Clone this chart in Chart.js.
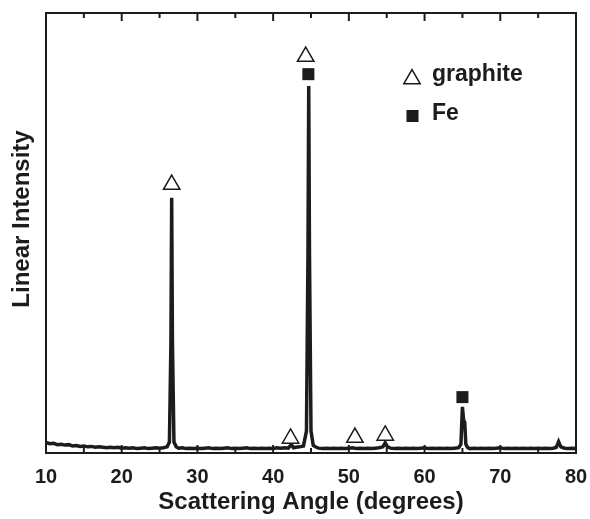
<!DOCTYPE html>
<html>
<head>
<meta charset="utf-8">
<script src="https://cdn.jsdelivr.net/npm/chart.js@4/dist/chart.umd.min.js"></script>
<style>
  html, body { margin: 0; padding: 0; background: #fff; }
  canvas { display: block; }
</style>
</head>
<body>
<canvas id="xrd" width="590" height="519"></canvas>
<script>
// scan: 2-theta (deg) vs intensity (arbitrary, 0..100 of plot height)
const angles = [
  10.0, 10.5, 11.0, 11.5, 12.0, 12.5, 13.0, 13.5, 14.0, 14.5, 15.0, 15.5, 16.0, 16.5, 17.0, 17.5,
  18.0, 18.5, 19.0, 19.5, 20.0, 20.5, 21.0, 21.5, 22.0, 22.5, 23.0, 23.5, 24.0, 24.5, 25.0, 25.5,
  26.0, 26.3, 26.5, 26.6, 26.7, 26.9, 27.2, 27.5, 28.0, 28.5, 29.0, 29.5, 30.0, 30.5, 31.0, 31.5,
  32.0, 32.5, 33.0, 33.5, 34.0, 34.5, 35.0, 35.5, 36.0, 36.5, 37.0, 37.5, 38.0, 38.5, 39.0, 39.5,
  40.0, 40.5, 41.0, 41.5, 42.0, 42.4, 42.7, 43.0, 43.5, 44.0, 44.4, 44.6, 44.7, 44.8, 45.0, 45.3,
  45.7, 46.0, 46.5, 47.0, 47.5, 48.0, 48.5, 49.0, 49.5, 50.0, 50.5, 51.0, 51.5, 52.0, 52.5, 53.0,
  53.5, 54.0, 54.5, 54.8, 55.1, 55.5, 56.0, 56.5, 57.0, 57.5, 58.0, 58.5, 59.0, 59.5, 60.0, 60.5,
  61.0, 61.5, 62.0, 62.5, 63.0, 63.5, 64.0, 64.5, 64.8, 65.0, 65.15, 65.3, 65.45, 65.7, 66.0, 66.5,
  67.0, 67.5, 68.0, 68.5, 69.0, 69.5, 70.0, 70.5, 71.0, 71.5, 72.0, 72.5, 73.0, 73.5, 74.0, 74.5,
  75.0, 75.5, 76.0, 76.5, 77.0, 77.4, 77.7, 78.0, 78.5, 79.0, 79.5, 80.0
];
const intensity = [
  2.4, 2.1, 2.2, 1.9, 2.0, 1.8, 1.9, 1.6, 1.7, 1.5, 1.6, 1.4, 1.5, 1.3, 1.4, 1.3,
  1.2, 1.3, 1.2, 1.3, 1.1, 1.2, 1.1, 1.2, 1.0, 1.1, 1.2, 1.0, 1.1, 1.2, 1.1, 1.2,
  1.4, 2.5, 25, 58, 25, 2.5, 1.4, 1.1, 1.2, 1.0, 1.1, 1.0, 1.1, 1.0, 1.1, 1.2,
  1.0, 1.1, 1.0, 1.1, 1.2, 1.0, 1.1, 1.0, 1.1, 1.2, 1.0, 1.1, 1.0, 1.1, 1.0, 1.1,
  1.0, 1.2, 1.1, 1.2, 1.1, 1.9, 1.2, 1.3, 1.4, 1.6, 5, 45, 83.4, 45, 5, 1.7,
  1.3, 1.1, 1.0, 1.1, 1.0, 1.1, 1.0, 1.1, 1.0, 1.1, 1.2, 1.0, 1.1, 1.0, 1.1, 1.0,
  1.1, 1.2, 1.4, 2.3, 1.4, 1.1, 1.0, 1.1, 1.0, 1.1, 1.0, 1.1, 1.0, 1.1, 1.2, 1.0,
  1.1, 1.0, 1.1, 1.0, 1.1, 1.0, 1.1, 1.2, 2.0, 10.5, 7.5, 7.0, 2.0, 1.2, 1.0, 1.1,
  1.0, 1.1, 1.0, 1.1, 1.0, 1.1, 1.2, 1.0, 1.1, 1.0, 1.1, 1.0, 1.1, 1.0, 1.1, 1.0,
  1.1, 1.0, 1.1, 1.0, 1.1, 1.3, 2.6, 1.4, 1.1, 1.0, 1.1, 1.0
];

// phase markers above peaks
const graphiteX = [26.6, 44.3, 42.3, 50.8, 54.8];
const graphiteY = [61.0, 90.1, 3.3, 3.5, 4.0];
const ironX = [44.65, 65.0];
const ironY = [86.1, 12.7];

const xTicks = [10, 20, 30, 40, 50, 60, 70, 80];
const legendLabels = ['graphite', 'Fe'];
const yTitle = 'Linear Intensity';

const ink = '#1c1c1c';
const fontFam = '"Liberation Sans", Arial, Helvetica, sans-serif';

const framePlugin = {
  id: 'frame',
  afterDatasetsDraw(chart) {
    const { ctx, chartArea: a, scales } = chart;
    const xs = scales.x;
    ctx.save();
    ctx.strokeStyle = ink;
    ctx.lineWidth = 2;
    ctx.strokeRect(a.left, a.top, a.right - a.left, a.bottom - a.top);
    // inward ticks top and bottom, minor every 5
    for (let v = 15; v < 80; v += 5) {
      const px = xs.getPixelForValue(v);
      const len = v % 10 === 0 ? 8 : 5;
      ctx.beginPath();
      ctx.moveTo(px, a.top); ctx.lineTo(px, a.top + len);
      ctx.moveTo(px, a.bottom); ctx.lineTo(px, a.bottom - len);
      ctx.stroke();
    }
    // legend
    ctx.fillStyle = '#fff';
    ctx.lineWidth = 1.5;
    Chart.helpers.drawPoint(ctx, { pointStyle: 'triangle', radius: 9.5, rotation: 0, borderWidth: 1.5 }, 412, 79);
    ctx.fillStyle = ink;
    Chart.helpers.drawPoint(ctx, { pointStyle: 'rect', radius: 8.5, rotation: 0, borderWidth: 0 }, 412.5, 116);
    ctx.font = 'bold 23px ' + fontFam;
    ctx.textBaseline = 'alphabetic';
    ctx.fillText(legendLabels[0], 432, 81);
    ctx.fillText(legendLabels[1], 432, 120);
    // y title sits a bit above the plot centre in the original
    ctx.translate(22, 219);
    ctx.rotate(-Math.PI / 2);
    ctx.font = 'bold 24px ' + fontFam;
    ctx.textAlign = 'center';
    ctx.textBaseline = 'middle';
    ctx.fillText(yTitle, 0, 0);
    ctx.restore();
  }
};

new Chart(document.getElementById('xrd'), {
  type: 'scatter',
  data: {
    datasets: [
      {
        label: 'graphite',
        data: graphiteX.map((x, i) => ({ x, y: graphiteY[i] })),
        pointStyle: 'triangle',
        pointRadius: 9.5,
        backgroundColor: '#fff',
        borderColor: ink,
        borderWidth: 1.5,
        showLine: false,
        order: 0
      },
      {
        label: 'Fe',
        data: ironX.map((x, i) => ({ x, y: ironY[i] })),
        pointStyle: 'rect',
        pointRadius: 8.5,
        backgroundColor: ink,
        borderColor: ink,
        borderWidth: 0,
        showLine: false,
        order: 1
      },
      {
        label: 'scan',
        data: angles.map((x, i) => ({ x, y: intensity[i] })),
        showLine: true,
        borderColor: ink,
        borderWidth: 3.5,
        pointRadius: 0,
        tension: 0,
        order: 2
      }
    ]
  },
  options: {
    responsive: false,
    animation: false,
    layout: { padding: { top: 13, right: 14, left: 0, bottom: 0 } },
    plugins: { legend: { display: false }, tooltip: { enabled: false } },
    scales: {
      x: {
        type: 'linear',
        min: 10, max: 80,
        afterBuildTicks: s => { s.ticks = xTicks.map(v => ({ value: v })); },
        afterFit: s => { s.height = 66; s.paddingLeft = 0; s.paddingRight = 0; },
        grid: { display: false, drawTicks: false },
        border: { display: false },
        ticks: { color: ink, padding: 12, font: { family: fontFam, size: 20, weight: 'bold' } },
        title: {
          display: true, text: 'Scattering Angle (degrees)', color: ink,
          font: { family: fontFam, size: 24, weight: 'bold' }, padding: { top: 0, bottom: 2 }
        }
      },
      y: {
        min: 0, max: 100,
        afterFit: s => { s.width = 46; },
        grid: { display: false, drawTicks: false },
        border: { display: false },
        ticks: { display: false },
        title: { display: false }
      }
    }
  },
  plugins: [framePlugin]
});
</script>
</body>
</html>
